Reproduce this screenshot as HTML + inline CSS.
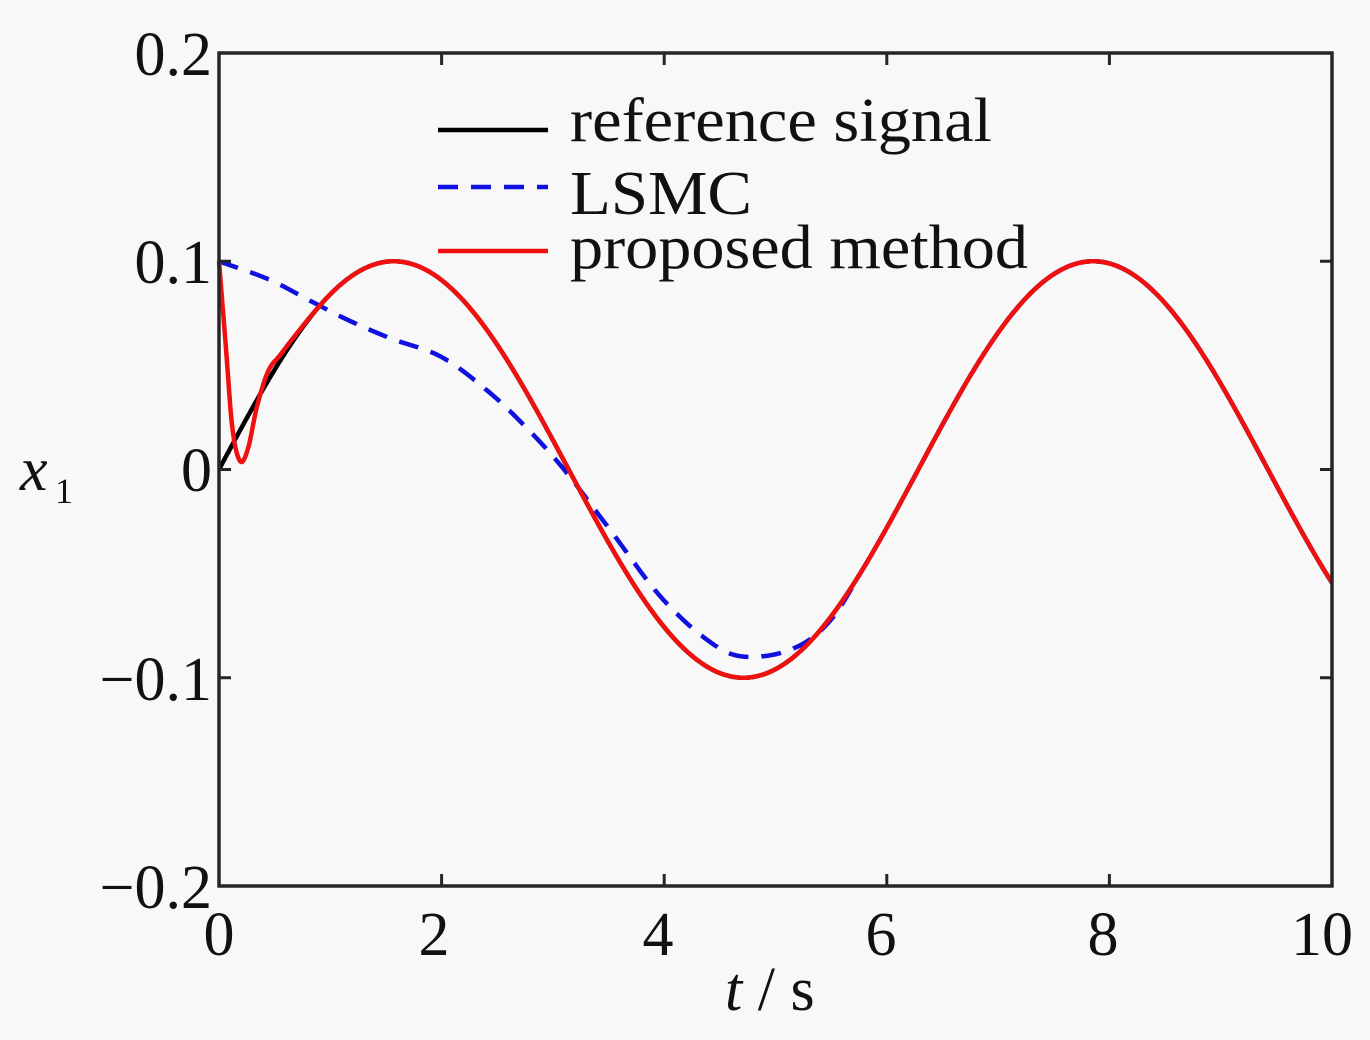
<!DOCTYPE html>
<html><head><style>body{margin:0;background:#f8f8f8}svg{display:block}text{font-family:"Liberation Serif",serif}</style></head>
<body>
<svg id="s" width="1370" height="1040" xmlns="http://www.w3.org/2000/svg">
<rect width="1370" height="1040" fill="#f8f8f8"/>
<g id="curves"></g>
<rect x="219" y="53" width="1113" height="833" fill="none" stroke="#262626" stroke-width="3.5"/>
<g stroke="#262626" stroke-width="3" id="ticks"></g>
<g font-size="62" fill="#111" text-anchor="end">
<text x="212" y="75">0.2</text>
<text x="212" y="283">0.1</text>
<text x="212" y="491">0</text>
<text x="212" y="700">−0.1</text>
<text x="212" y="908">−0.2</text>
</g>
<g font-size="62" fill="#111" text-anchor="middle">
<text x="219" y="955">0</text>
<text x="434" y="955">2</text>
<text x="658" y="955">4</text>
<text x="881" y="955">6</text>
<text x="1103" y="955">8</text>
<text x="1322" y="955">10</text>
</g>
<text x="725" y="1010" font-size="62" fill="#111"><tspan font-style="italic">t</tspan> / s</text>
<text x="20" y="490" font-size="62" font-style="italic" fill="#111">x</text>
<text x="55" y="503" font-size="36" fill="#111">1</text>
<g stroke-width="4.5">
<line x1="438" y1="130" x2="548" y2="130" stroke="#000"/>
<line x1="438" y1="187" x2="548" y2="187" stroke="#1010e0" stroke-dasharray="20,13"/>
<line x1="438" y1="251" x2="548" y2="251" stroke="#f01010"/>
</g>
<g font-size="62" fill="#111">
<text x="570" y="141" textLength="422" lengthAdjust="spacingAndGlyphs">reference signal</text>
<text x="570" y="214" textLength="182" lengthAdjust="spacingAndGlyphs">LSMC</text>
<text x="570" y="268" textLength="458" lengthAdjust="spacingAndGlyphs">proposed method</text>
</g>
</svg>
<script>
const X=t=>219+111.3*t, Y=v=>469.5-2082.5*v;
const ref=t=>0.1*Math.sin(t);
function cr(pts,t){let i=0;while(i<pts.length-2&&t>pts[i+1][0])i++;
const p0=pts[Math.max(i-1,0)],p1=pts[i],p2=pts[i+1],p3=pts[Math.min(i+2,pts.length-1)];
const h=p2[0]-p1[0],u=(t-p1[0])/h;
const m1=(p2[1]-p0[1])/(p2[0]-p0[0])*h, m2=(p3[1]-p1[1])/(p3[0]-p1[0])*h;
const u2=u*u,u3=u2*u;
return (2*u3-3*u2+1)*p1[1]+(u3-2*u2+u)*m1+(-2*u3+3*u2)*p2[1]+(u3-u2)*m2;}
const ls=[[0,0.1],[0.46,0.091],[0.82,0.081],[1.15,0.072],[1.54,0.063],[2,0.054],[2.43,0.037],[2.8,0.018],[3.1,0],[3.5,-0.028],[4,-0.063],[4.5,-0.086],[4.8,-0.09],[5.2,-0.085],[5.5,-0.072],[5.8,ref(5.8)],[6,ref(6)],[6.2,ref(6.2)]];
const pr=[[0,0.1],[0.06,0.06],[0.12,0.02],[0.19,0.004],[0.26,0.01],[0.34,0.03],[0.44,0.047],[0.55,0.055],[0.7,ref(0.7)+0.001],[0.9,ref(0.9)],[1.1,ref(1.1)]];
function path(f){let d='';for(let i=0;i<=2000;i++){const t=i/200;d+=(i?'L':'M')+X(t).toFixed(1)+','+Y(f(t)).toFixed(1);}return d;}
const LS=t=>t<6?cr(ls,t):ref(t);
const PR=t=>t<0.9?cr(pr,t):ref(t);
document.getElementById('curves').innerHTML=`<path d="${path(ref)}" stroke="#000" stroke-width="4.5" fill="none"/>
<path d="${path(LS)}" stroke="#1010e0" stroke-width="4.5" fill="none" stroke-dasharray="20,13"/>
<path d="${path(PR)}" stroke="#f01010" stroke-width="4.5" fill="none"/>`;
let tk='';
for(let i=0;i<=5;i++){const x=X(2*i);tk+=`<line x1="${x}" y1="886" x2="${x}" y2="874"/><line x1="${x}" y1="53" x2="${x}" y2="65"/>`;}
for(let i=0;i<=4;i++){const y=53+i*208.25;tk+=`<line x1="219" y1="${y}" x2="231" y2="${y}"/><line x1="1332" y1="${y}" x2="1320" y2="${y}"/>`;}
document.getElementById('ticks').innerHTML=tk;
</script>
</body></html>
